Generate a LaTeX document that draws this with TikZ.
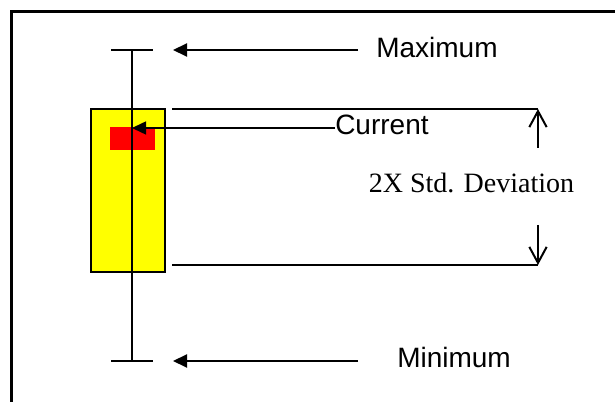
\documentclass[tikz,border=0pt]{standalone}
\usepackage{fontspec}
\usepackage{tikz}
\usetikzlibrary{arrows.meta}
\newfontfamily\arialfont{Liberation Sans}
\newfontfamily\timesfont{Liberation Serif}

\begin{document}
\begin{tikzpicture}[x=0.75pt,y=0.75pt,yscale=-1,xscale=1,
  ptr/.style={line width=1.5pt,-{Triangle[length=10.5pt,width=9.75pt]}},
  barb/.style={line width=1.5pt,-{Straight Barb[length=12pt,width=13pt,line width=1.5pt]}},
  lbl/.style={anchor=base west,inner sep=0pt,font=\arialfont\fontsize{21}{25}\selectfont}]
\useasboundingbox (0,0) rectangle (615,402);

%Shape: Frame
\draw [line width=2.25pt]  (11,402) -- (11,12) -- (615,12) ;

%Shape: Rectangle [box]
\node [draw,line width=1.5pt,fill={rgb, 255:red, 255; green, 255; blue, 0 },minimum width=55.5pt,minimum height=122.25pt,inner sep=0pt] (iqr) at (128,190.5) {};
%Shape: Rectangle [current]
\fill [color={rgb, 255:red, 255; green, 0; blue, 0 }] (110,127) rectangle (155,150) ;

%Straight Lines [whisker]
\coordinate (wtop) at (132,50);
\coordinate (wbot) at (132,361);
\draw [line width=1.5pt]  (wtop) -- (wbot) ;
\draw [line width=1.5pt]  (111,50) -- (153,50) ;
\draw [line width=1.5pt]  (111,361) -- (153,361) ;

%Straight Lines [std dev]
\coordinate (sdtop) at (538,109);
\coordinate (sdbot) at (538,265);
\draw [line width=1.5pt]  (172,109) -- (sdtop) ;
\draw [line width=1.5pt]  (172,265) -- (sdbot) ;
\draw [barb]  (538,148) -- (sdtop) ;
\draw [barb]  (538,225) -- (sdbot) ;

% Text Node
\node [lbl] (maxlbl) at (376,57.5) {Maximum};
% Text Node
\node [lbl] (curlbl) at (335,134.5) {Current};
% Text Node
\node [lbl] (minlbl) at (397,367.5) {Minimum};
% Text Node
\node [anchor=base,inner sep=0pt,font=\timesfont\fontsize{21}{25}\selectfont] (sdlbl) at (471.5,193) {2X Std. Deviation};

%Arrows
\coordinate (curtip) at (132,128);
\draw [ptr]  (358,50) -- (173,50) ;
\draw [ptr,line width=1.1pt]  (curlbl.west |- curtip) -- (curtip) ;
\draw [ptr]  (358,361) -- (173,361) ;

\end{tikzpicture}
\end{document}
